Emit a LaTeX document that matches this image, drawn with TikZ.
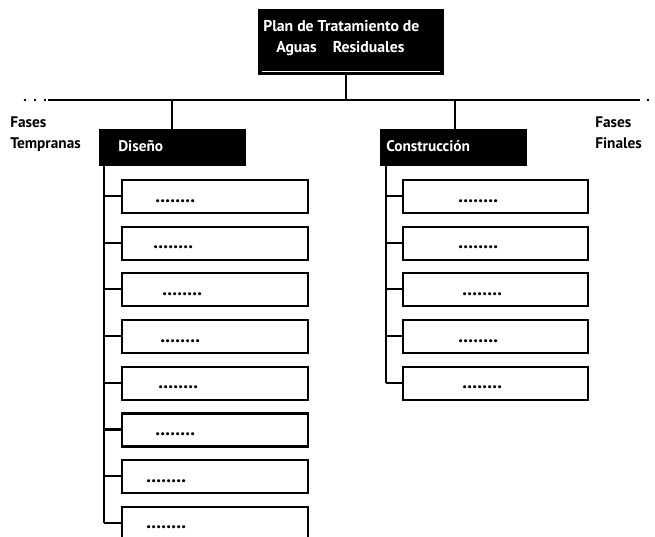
\documentclass[tikz,border=0pt]{standalone}
\usepackage{fontspec}
\setmainfont{PT Sans}
\begin{document}
\begin{tikzpicture}[x=0.75pt,y=-0.75pt,
  headbox/.style={fill=black,draw=black,line width=1.2pt},
  itembox/.style={draw=black,line width=1.6pt,fill=white},
  rule/.style={line width=1.6pt},
  stem/.style={line width=2pt},
  headtxt/.style={text=white,font=\bfseries\fontsize{11.8}{14}\selectfont,anchor=base west,inner sep=0pt},
  subtxt/.style={text=white,font=\bfseries\fontsize{11.5}{13}\selectfont,anchor=base west,inner sep=0pt},
  sidetxt/.style={font=\bfseries\fontsize{11.5}{13}\selectfont,anchor=base west,inner sep=0pt},
  dots/.style={font=\bfseries\fontsize{14.5}{14}\selectfont,inner sep=0pt,anchor=base west}]
\clip (0,0) rectangle (655,536);
\fill[white] (0,0) rectangle (655,536);

% main title block
\draw[headbox] (259,10) rectangle (443,74);
\draw[white,line width=0.5pt] (262,71) -- (440,71);
\node[headtxt] (t1) at (263,31) {Plan de Tratamiento de};
\node[headtxt] (t2) at (276,52) {Aguas\hspace{12pt}Residuales};
\coordinate (top) at (346,74);

% phase rule
\coordinate (ruleL) at (48,100);
\coordinate (ruleR) at (640,100);
\draw[rule] (ruleL) -- (ruleR);
\foreach \x in {25,35,45} \fill (\x,100) circle (1pt);
\fill (648,100) circle (1pt);
\draw[stem] (top) -- (top |- ruleL);

\node[sidetxt] (fl1) at (10,127) {Fases};
\node[sidetxt] (fl2) at (10,148) {Tempranas};
\node[sidetxt] (fr1) at (595,127) {Fases};
\node[sidetxt] (fr2) at (595,148) {Finales};

% branch heads
\draw[headbox] (100,130) rectangle (245,165);
\node[subtxt] (dis) at (118,151) {Diseño};
\draw[headbox] (381,130) rectangle (526,165);
\node[subtxt] (con) at (386,151) {Construcción};
\draw[stem] (172,100) -- (172,130);
\draw[stem] (455,100) -- (455,130);

% left column
\draw[rule] (104,165) -- (104,523);
\foreach \i/\dx in {0/155,1/153,2/162,3/160,4/158,5/155,6/146,7/146} {
  \pgfmathsetmacro\yt{180+46.7*\i}
  \draw[itembox] (122,\yt) rectangle (308,\yt+33);
  \draw[rule] (104,\yt+16) -- (122,\yt+16);
  \node[dots] at (\dx,\yt+22) {........};
}

% right column
\draw[rule] (386,165) -- (386,383);
\foreach \i/\dx in {0/458,1/458,2/462,3/458,4/462} {
  \pgfmathsetmacro\yt{180+46.7*\i}
  \draw[itembox] (403,\yt) rectangle (588,\yt+33);
  \draw[rule] (386,\yt+16) -- (403,\yt+16);
  \node[dots] at (\dx,\yt+22) {........};
}
\end{tikzpicture}
\end{document}
